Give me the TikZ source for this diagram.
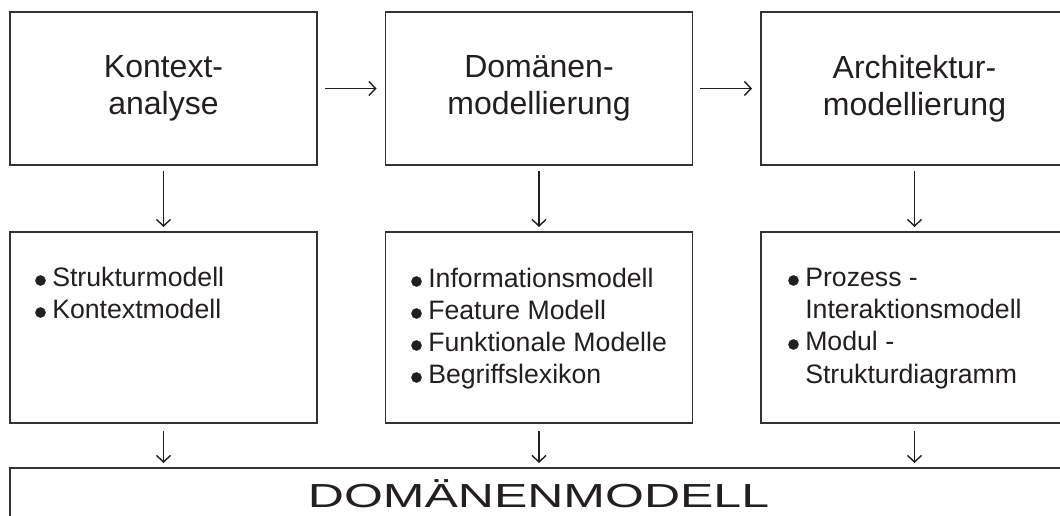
\documentclass[tikz,border=0pt]{standalone}
\usepackage{fontspec}
\setmainfont{Liberation Sans}
\newfontfamily\widefont[FakeStretch=1.5]{Liberation Sans}
\usetikzlibrary{arrows.meta}
\definecolor{ink}{HTML}{231F20}
\definecolor{frame}{HTML}{333333}

\begin{document}
\begin{tikzpicture}[x=0.75pt, y=-0.75pt,
  box/.style={draw=frame, line width=1.45pt, minimum width=230.25pt},
  headbox/.style={box, minimum height=114.75pt, align=center, text=ink,
    font=\fontsize{24pt}{27.75pt}\selectfont},
  listbox/.style={box, minimum height=143.25pt},
  flow/.style={draw=ink, line width=1.05pt,
    -{Straight Barb[length=5pt, width=10.5pt, line width=1.05pt]}},
  item/.style={anchor=base west, inner sep=0pt, text=ink,
    font=\fontsize{20pt}{24pt}\selectfont},
  dot/.style={fill=ink}]
\useasboundingbox (0,0) rectangle (1060,516);
\clip (0,0) rectangle (1060,516);

% process steps
\node[headbox] (ka) at (163.5,88.5) {Kontext-\\analyse};
\node[headbox] (dm) at (539,88.5) {Domänen-\\modellierung};
\node[headbox] (am) at (914.5,88.5) {Architektur-\\modellierung};

% resulting models
\node[listbox] (kl) at (163.5,327.5) {};
\node[listbox] (dl) at (539,327.5) {};
\node[listbox] (al) at (914.5,327.5) {};

% common domain model
\node[box, minimum width=832.5pt, minimum height=75pt] (mod) at (565,518) {};
\node[anchor=base, inner sep=0pt, text=ink,
  font=\widefont\fontsize{25pt}{30pt}\selectfont] (modt) at (538.5,507) {DOMÄNENMODELL};

% bullet lists
\newcommand\blt[2]{\fill[dot] (#1-11.5,#2-6.5) circle (4pt);}
\blt{52}{287}\node[item] (k1) at (52,287) {Strukturmodell};
\blt{52}{319}\node[item] (k2) at (52,319) {Kontextmodell};

\blt{428}{288}\node[item] (d1) at (428,288) {Informationsmodell};
\blt{428}{320}\node[item] (d2) at (428,320) {Feature Modell};
\blt{428}{352}\node[item] (d3) at (428,352) {Funktionale Modelle};
\blt{428}{384}\node[item] (d4) at (428,384) {Begriffslexikon};

\blt{805}{287}\node[item] (a1) at (805,287) {Prozess -};
\node[item] (a2) at (805,319) {Interaktionsmodell};
\blt{805}{351}\node[item] (a3) at (805,351) {Modul -};
\node[item] (a4) at (805,383) {Strukturdiagramm};

% connectors
\draw[flow, shorten <=5.25pt, shorten >=6pt] (ka.east) -- (dm.west);
\draw[flow, shorten <=5.25pt, shorten >=6pt] (dm.east) -- (am.west);
\foreach \s/\t in {ka/kl, dm/dl, am/al}{
  \draw[flow, shorten <=3.75pt, shorten >=3pt] (\s.south) -- (\t.north);
  \draw[flow, shorten <=5.25pt, shorten >=3pt] (\t.south) -- (\t.south |- mod.north);
}
\end{tikzpicture}
\end{document}
